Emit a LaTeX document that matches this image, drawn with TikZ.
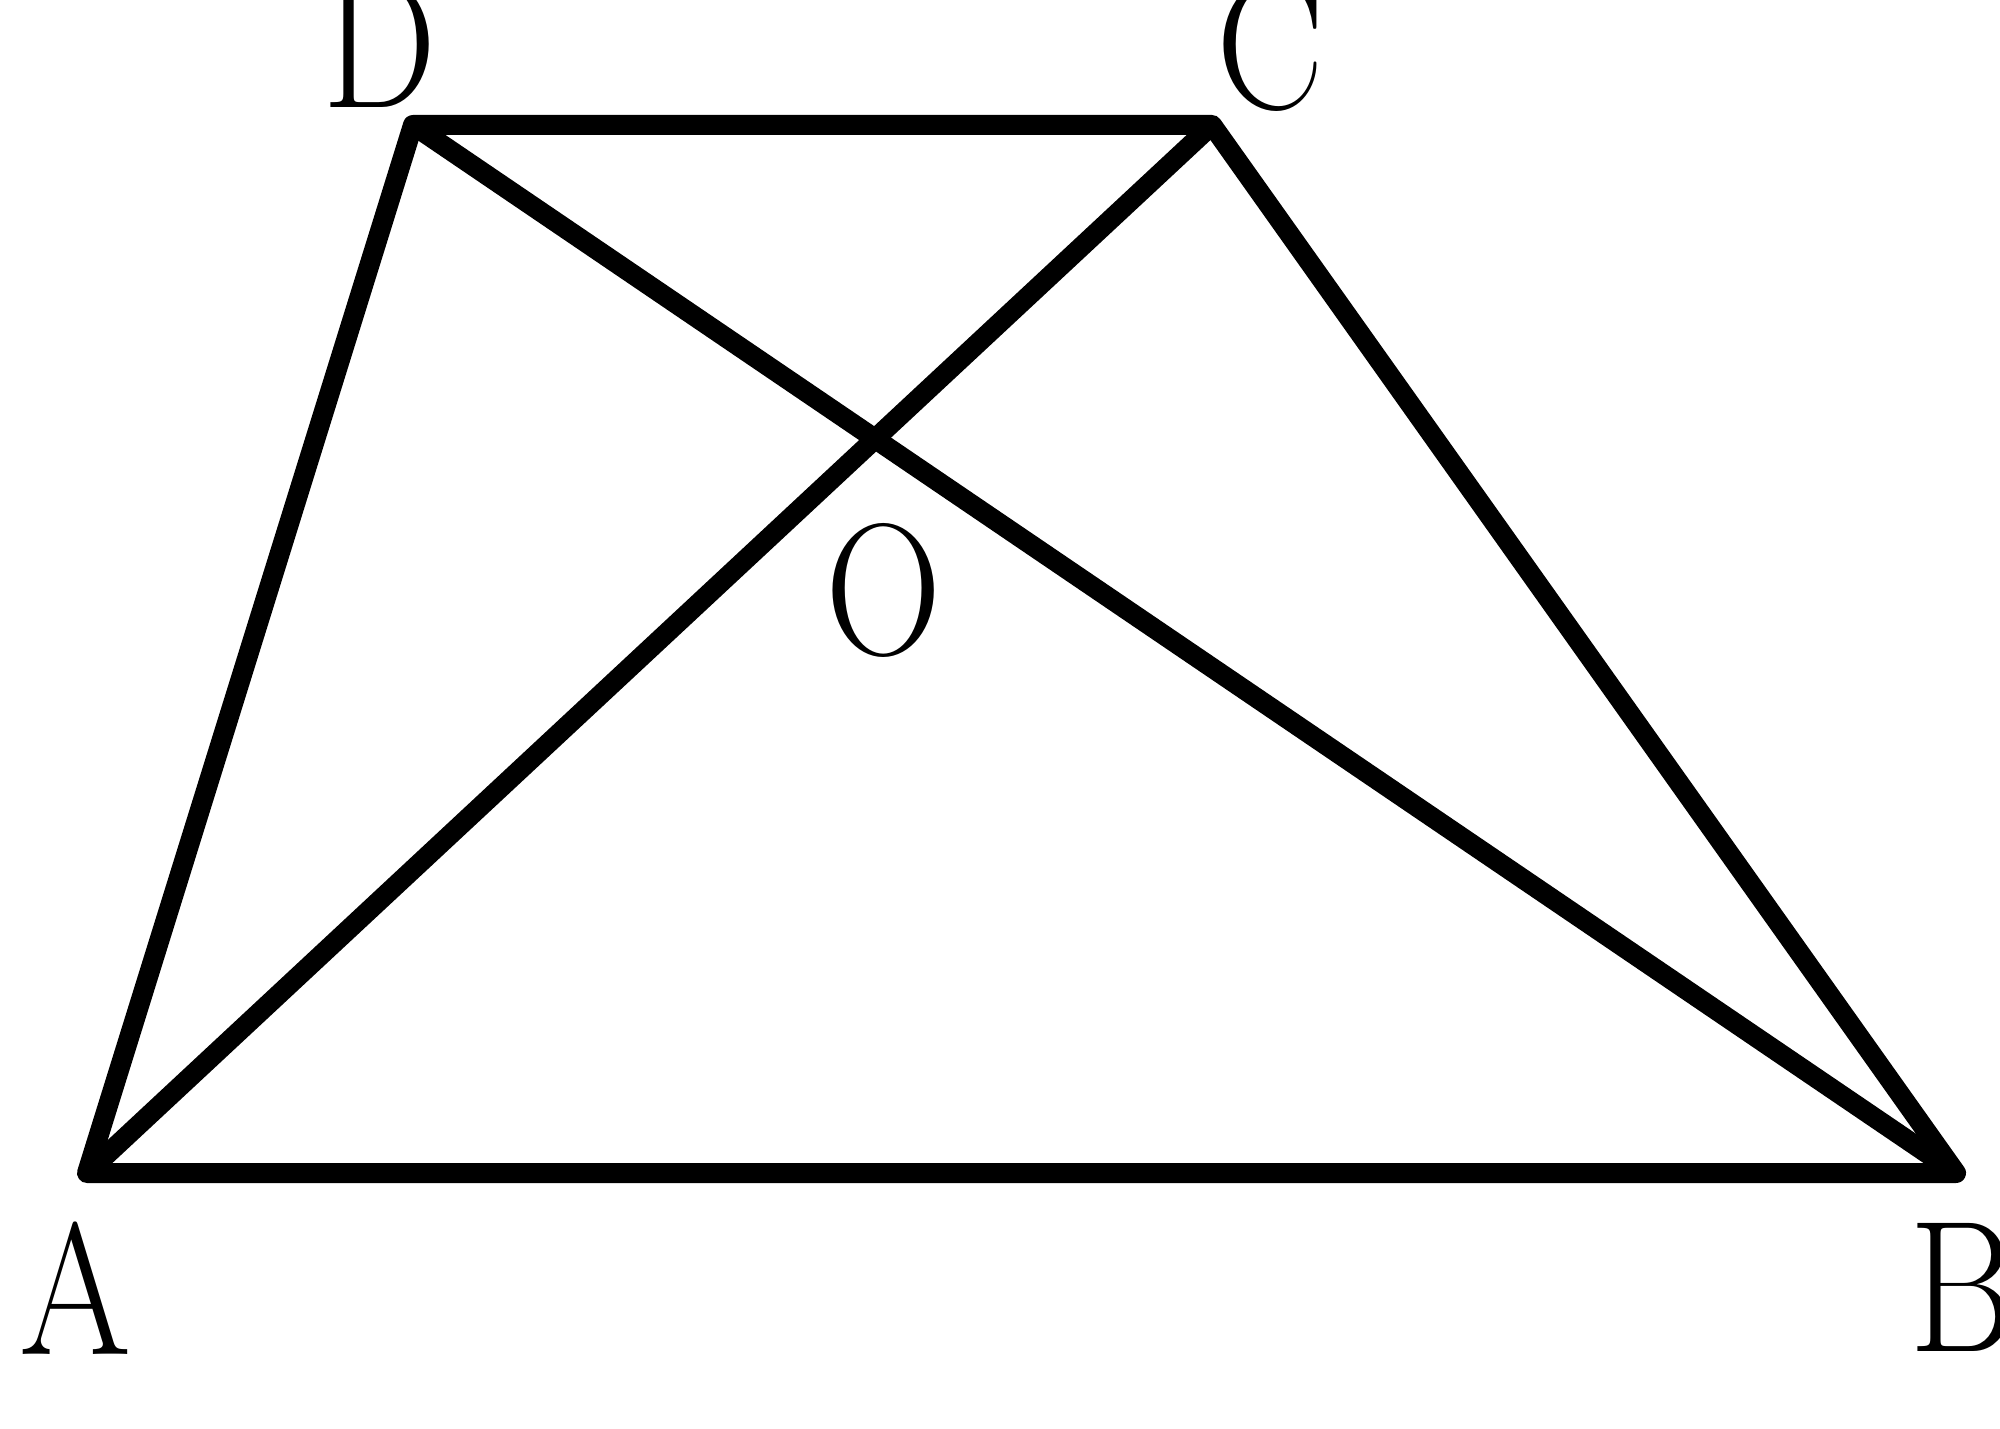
\documentclass[tikz,border=0pt]{standalone}
\begin{document}
\begin{tikzpicture}[
  edge/.style={line width=0.2cm, black, line join=round},
  lbl/.style={inner sep=0pt, font=\fontsize{46}{50}\selectfont}
]
\useasboundingbox (0,0) rectangle (20,14.28);
\coordinate (A) at (0.87,2.55);
\coordinate (B) at (19.56,2.55);
\coordinate (C) at (12.12,13.03);
\coordinate (D) at (4.13,13.03);
\draw[edge] (A) -- (B) -- (C) -- (D) -- cycle;
\draw[edge] (A) -- (C);
\draw[edge] (B) -- (D);
\node[lbl] (lA) at (0.76,1.40) {\scalebox{1}[1.16]{A}};
\node[lbl] (lB) at (19.62,1.41) {\scalebox{1}[1.16]{B}};
\node[lbl] (lC) at (12.70,13.84) {\scalebox{1}[1.16]{C}};
\node[lbl] (lD) at (3.80,13.85) {\scalebox{1}[1.16]{D}};
\node[lbl] (lO) at (8.84,8.38) {\scalebox{1}[1.16]{O}};
\end{tikzpicture}
\end{document}
